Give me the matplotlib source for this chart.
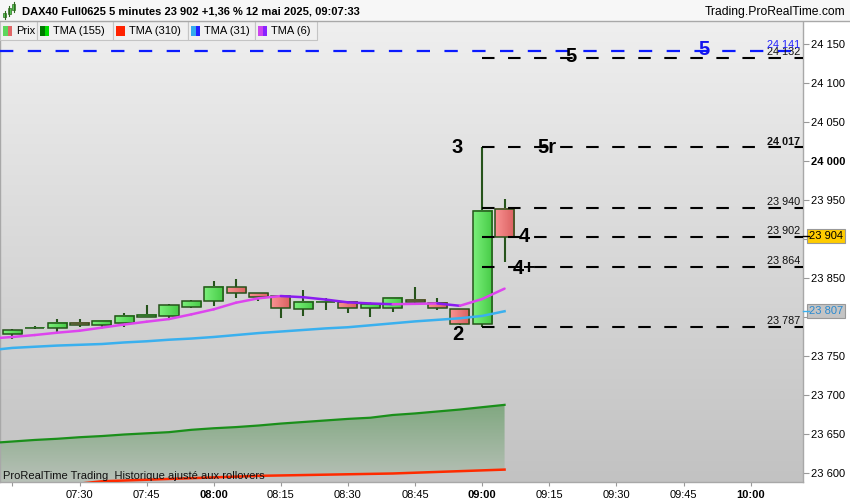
import numpy as np
import matplotlib
matplotlib.use("Agg")
import matplotlib.pyplot as plt
from matplotlib.patches import Rectangle
from matplotlib.transforms import blended_transform_factory
from matplotlib.colors import LinearSegmentedColormap

plt.rcParams['font.family'] = ['Liberation Sans', 'DejaVu Sans']

# DAX40 5 min bars, 12 mai 2025
times = ["07:15", "07:20", "07:25", "07:30", "07:35", "07:40", "07:45", "07:50",
         "07:55", "08:00", "08:05", "08:10", "08:15", "08:20", "08:25", "08:30",
         "08:35", "08:40", "08:45", "08:50", "08:55", "09:00", "09:05"]
opens = [23778, 23785, 23785, 23792, 23789, 23792, 23799, 23801, 23813, 23820,
         23838, 23830, 23826, 23810, 23819, 23819, 23811, 23811, 23822, 23818,
         23810, 23791, 23938]
highs = [23784, 23788, 23797, 23797, 23796, 23805, 23815, 23816, 23821, 23846,
         23848, 23831, 23826, 23834, 23824, 23819, 23817, 23825, 23838, 23824,
         23810, 24017, 23951]
lows = [23772, 23784, 23780, 23787, 23787, 23787, 23799, 23798, 23811, 23814,
        23824, 23820, 23798, 23801, 23809, 23805, 23800, 23806, 23817, 23808,
        23790, 23787, 23870]
closes = [23783, 23786, 23792, 23789, 23795, 23801, 23802, 23815, 23820, 23838,
          23831, 23825, 23811, 23819, 23819.5, 23811, 23816, 23824, 23819, 23811,
          23791, 23936, 23902]

# moving averages, first value = bar before 07:15
tma6 = [23772, 23774, 23776.5, 23779.5, 23782, 23786, 23790, 23793.6, 23797, 23803,
        23809.5, 23818, 23823.6, 23826.5, 23825, 23822, 23818.4, 23817, 23816,
        23816.5, 23817, 23814, 23822.7, 23836]
tma31 = [23757, 23760, 23761.5, 23763, 23764, 23765, 23767, 23768.5, 23770.5, 23772,
         23774, 23776.5, 23779, 23781, 23783, 23785, 23786.5, 23789, 23791.5, 23794,
         23796, 23798, 23801, 23807]
tma155 = [23638, 23640, 23642, 23643.5, 23645.5, 23647, 23649, 23650.5, 23652, 23655,
          23657, 23658.5, 23660.5, 23663, 23665, 23667, 23669, 23670.5, 23674, 23676,
          23678.5, 23681, 23684, 23687]
tma310 = [23582, 23583, 23584, 23585, 23586, 23589, 23590, 23591, 23592, 23593,
          23594, 23595, 23596, 23596.5, 23597, 23597.5, 23598, 23598.5, 23599, 23600,
          23601, 23602, 23603, 23604]

levels = [24132, 24017, 23940, 23902, 23864, 23787]
blue_level = 24141
last_quote = 23904

time_ticks = ["07:15", "07:30", "07:45", "08:00", "08:15", "08:30", "08:45",
              "09:00", "09:15", "09:30", "09:45", "10:00"]
price_ticks = list(range(23600, 24151, 50))
hidden_ticks = [23800, 23900]   # covered by the price boxes

title = "DAX40 Full0625 5 minutes 23 902 +1,36 % 12 mai 2025, 09:07:33"


def fmt(v):
    return f"{int(round(v)):,}".replace(",", " ")


def to_idx(t):
    h, m = t.split(":")
    h0, m0 = times[0].split(":")
    return ((int(h) * 60 + int(m)) - (int(h0) * 60 + int(m0))) / 5


W, H = 850, 500
fig = plt.figure(figsize=(8.5, 5), dpi=100)
fig.patch.set_facecolor("white")
ax = fig.add_axes([0, (H - 482) / H, 803 / W, (482 - 21) / H])

xmin, xmax = -0.554, 35.34
ymin, ymax = 23588.1, 24179.1

# background gradient
bg = LinearSegmentedColormap.from_list("bg", ["#c2c2c2", "#efefef"])
ax.imshow(np.linspace(0, 1, 256).reshape(-1, 1), cmap=bg, origin="lower",
          extent=[xmin, xmax, ymin, ymax], aspect="auto", zorder=0)

# zone between TMA 155 and TMA 310
xm = np.arange(-1, len(times))
zone = ax.fill_between(xm, tma155, tma310, facecolor="none", edgecolor="none")
zc = LinearSegmentedColormap.from_list("zone", ["#bcc2bc", "#80a880"])
zim = ax.imshow(np.linspace(0, 1, 256).reshape(-1, 1), cmap=zc, origin="lower",
                extent=[xm[0], xm[-1], min(tma310), max(tma155)], aspect="auto", zorder=1)
zim.set_clip_path(zone.get_paths()[0], transform=ax.transData)

ax.plot(xm, tma155, color="#1a8f1a", lw=1.6, zorder=5)
ax.plot(xm, tma310, color="#ff2a00", lw=1.8, zorder=5)

# candles
gcm = LinearSegmentedColormap.from_list("g", ["#7af07a", "#46ca46"])
rcm = LinearSegmentedColormap.from_list("r", ["#f99292", "#da6060"])
edge = "#26531b"
bw = 0.85
for i in range(len(times)):
    o, h, l, c = opens[i], highs[i], lows[i], closes[i]
    lo, hi = min(o, c), max(o, c)
    ax.vlines(i, l, lo, color=edge, lw=1.5, zorder=2)
    ax.vlines(i, hi, h, color=edge, lw=1.5, zorder=2)
    cm = gcm if c >= o else rcm
    ax.imshow(np.linspace(0, 1, 32).reshape(1, -1), cmap=cm,
              extent=[i - bw / 2, i + bw / 2, lo, hi], aspect="auto", zorder=3,
              interpolation="bilinear")
    ax.add_patch(Rectangle((i - bw / 2, lo), bw, hi - lo, fill=False, ec=edge,
                           lw=1.1, zorder=4))

# TMA 31 and TMA 6 (purple when falling)
ax.plot(xm, tma31, color="#3ab0ee", lw=1.8, zorder=6)
for k in range(len(tma6) - 1):
    col = "#dd44ee" if tma6[k + 1] >= tma6[k] else "#8a1cf0"
    ax.plot(xm[k:k + 2], tma6[k:k + 2], color=col, lw=1.8, zorder=6,
            solid_capstyle="round")

# levels
ax.hlines(blue_level, xmin, xmax, color="#0a1aff", lw=1.6,
          linestyles=(0, (6, 6.5)), zorder=7)
i0 = to_idx("09:00")
for lv in levels:
    ax.hlines(lv, i0, xmax, color="black", lw=1.5, linestyles=(0, (6, 6.5)), zorder=7)

tr = blended_transform_factory(ax.transAxes, ax.transData)
for lv in levels:
    ax.text(0.996, lv + 3.5, fmt(lv), transform=tr, ha="right", va="baseline",
            fontsize=7.8, fontweight="bold" if lv == 24017 else "normal",
            color="#111111", zorder=8)
ax.text(0.996, blue_level + 3.5, fmt(blue_level), transform=tr, ha="right",
        va="baseline", fontsize=7.8, color="#2222ff", zorder=8)

# wave counts
big = dict(fontsize=14.5, fontweight="bold", va="baseline", ha="center", zorder=9)
ax.text(30.9, blue_level - 5.5, "5", color="#1414ee", **big)
ax.text(24.95, levels[0] - 5, "5", color="black", **big)
ax.text(19.9, levels[1] - 7, "3", color="black", **big)
ax.text(23.9, levels[1] - 7, "5r", color="black", **big)
ax.text(22.9, levels[3] - 6, "4", color="black", **big)
ax.text(22.9, levels[4] - 9, "4+", color="black", **big)
ax.text(19.9, levels[5] - 17, "2", color="black", **big)

ax.set_xlim(xmin, xmax)
ax.set_ylim(ymin, ymax)

# axes
ax.yaxis.tick_right()
ax.set_yticks(price_ticks)
ax.set_yticklabels(["" if v in hidden_ticks else fmt(v) for v in price_ticks])
for lab, v in zip(ax.get_yticklabels(), price_ticks):
    if v == 24000:
        lab.set_fontweight("bold")
ax.set_xticks([to_idx(t) for t in time_ticks])
ax.set_xticklabels(["" if t == times[0] else t for t in time_ticks])
for lab, t in zip(ax.get_xticklabels(), time_ticks):
    if t.endswith(":00"):
        lab.set_fontweight("bold")
ax.tick_params(axis="y", direction="out", length=4, width=0.8, color="#999999",
               labelsize=8, pad=2)
ax.tick_params(axis="x", direction="out", length=3, width=0.8, color="#999999",
               labelsize=8, pad=3)
ax.spines["top"].set_visible(False)
for s in ["right", "bottom", "left"]:
    ax.spines[s].set_color("#a8a8a8")
    ax.spines[s].set_linewidth(1)

# current price boxes
ax.text(1.0075, last_quote, fmt(last_quote), transform=tr, ha="left", va="center",
        fontsize=8, clip_on=False, zorder=20,
        bbox=dict(boxstyle="square,pad=0.18", fc="#ffcc00", ec="#999999", lw=0.8))
ax.plot([1.0, 1.007], [last_quote, last_quote], transform=tr, color="black", lw=1,
        clip_on=False, zorder=20)
ax.text(1.0075, tma31[-1], fmt(tma31[-1]), transform=tr, ha="left", va="center",
        fontsize=8, color="#2a8ad0", clip_on=False, zorder=20,
        bbox=dict(boxstyle="square,pad=0.18", fc="#c4c4c4", ec="#999999", lw=0.8))
ax.plot([1.0, 1.007], [tma31[-1], tma31[-1]], transform=tr, color="#3ab0ee", lw=1,
        clip_on=False, zorder=20)

# header and legend in pixel coords
top = fig.add_axes([0, 0, 1, 1], zorder=5)
top.set_xlim(0, W)
top.set_ylim(H, 0)
top.set_axis_off()
top.patch.set_alpha(0)

top.add_patch(Rectangle((0, 0), W, 20.5, fc="#f7f7f7", ec="none"))
top.plot([0, W], [20.5, 20.5], color="#a8a8a8", lw=1)
for cx, b0, b1 in [(5, 13, 17), (9.5, 8, 14), (14, 4, 10)]:
    top.plot([cx, cx], [b0 - 2, b1 + 2], color="#2f6a1f", lw=0.8)
    top.add_patch(Rectangle((cx - 1.5, b0), 3, b1 - b0, fc="#55cc55", ec="#2f6a1f", lw=0.5))
top.text(22, 11, title, fontsize=8, fontweight="bold", va="center", ha="left")
top.text(845, 11.5, "Trading.ProRealTime.com", fontsize=8.7, va="center", ha="right")

cells = [(0, 37, "Prix", "#5cd65c", "#e06666"),
         (37, 113, "TMA (155)", "#007a00", "#00dd00"),
         (113, 188, "TMA (310)", "#ff2200", "#ff2200"),
         (188, 255, "TMA (31)", "#33aaee", "#2222ff"),
         (255, 317, "TMA (6)", "#cc44ee", "#8822ff")]
for x0, x1, name, c1, c2 in cells:
    top.add_patch(Rectangle((x0, 21), x1 - x0, 19, fc="#f0f0f0", ec="#c4c4c4", lw=0.8))
    top.add_patch(Rectangle((x0 + 3.5, 26), 4.5, 10, fc=c1, ec="none"))
    top.add_patch(Rectangle((x0 + 8, 26), 4.5, 10, fc=c2, ec="none"))
    top.text(x0 + 16, 31, name, fontsize=8, va="center", ha="left")

top.text(3, 476, "ProRealTime Trading  Historique ajusté aux rollovers", fontsize=8,
         va="center", ha="left", color="#111111")

fig.savefig("out.png", dpi=100, facecolor="white")
